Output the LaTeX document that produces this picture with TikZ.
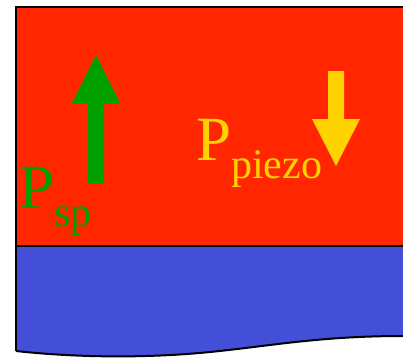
\documentclass[tikz,border=0pt]{standalone}
\usepackage{fontspec}
\setmainfont{Liberation Serif}
\usepackage{xcolor}
\usepackage{tikz}
\definecolor{piezored}{RGB}{255,38,0}
\definecolor{substrate}{RGB}{67,79,214}
\definecolor{spgreen}{RGB}{0,160,0}
\definecolor{pzyellow}{RGB}{255,211,0}
\newcommand{\polar}[1]{P\raisebox{-18pt}{\fontsize{42}{42}\selectfont #1}}

\begin{document}
\begin{tikzpicture}[x=1pt,y=-1pt,line width=2pt]
\useasboundingbox (0,0) rectangle (403,357);
% layers
\fill[piezored] (16,7) rectangle (403,246);
\fill[substrate] (16,246) -- (403,246) -- (403,336) .. controls (320,336) and (270,346) .. (210,352)
  .. controls (150,358) and (80,358) .. (16,351) -- cycle;
\draw (403,7) -- (16,7) -- (16,351);
\draw (16,246) -- (403,246);
\draw (16,351) .. controls (80,358) and (150,358) .. (210,352) .. controls (270,346) and (320,336) .. (403,336);
% polarisation arrows
\fill[spgreen] (88,183) -- (104,183) -- (104,103) -- (120,103) -- (96,55) -- (72,103) -- (88,103) -- cycle;
\fill[pzyellow] (328,71) -- (344,71) -- (344,119) -- (360,119) -- (336,166) -- (312,119) -- (328,119) -- cycle;
% labels
\node[spgreen,anchor=base west,inner sep=0pt,font=\fontsize{63}{63}\selectfont] (Psp) at (18,208) {\polar{sp}};
\node[pzyellow,anchor=base west,inner sep=0pt,font=\fontsize{63}{63}\selectfont] (Ppiezo) at (195,160) {\polar{piezo}};
\end{tikzpicture}
\end{document}
